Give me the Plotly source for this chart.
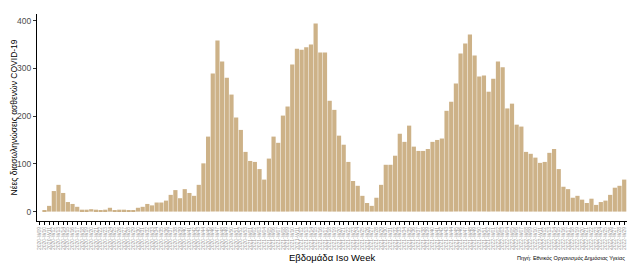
import plotly.graph_objects as go

# ISO week labels (2020-W09 .. 2022-W29)
weeks_2020 = [f"2020-W{w:02d}" for w in range(9, 54)]
weeks_2021 = [f"2021-W{w:02d}" for w in range(1, 53)]
weeks_2022 = [f"2022-W{w:02d}" for w in range(1, 30)]
week_labels = weeks_2020 + weeks_2021 + weeks_2022

intubations = [0, 1.5, 12, 43, 56, 39, 20, 16, 10, 4, 4, 5, 4, 2, 4, 8, 3, 4, 4, 3,
               2, 8, 10, 16, 13, 19, 19, 23, 35, 45, 28, 47, 39, 33, 56, 101, 157, 289, 358, 314,
               280, 245, 197, 171, 125, 106, 104, 89, 67, 111, 157, 144, 201, 220, 308, 341, 339, 344, 350, 394,
               333, 333, 232, 213, 159, 140, 104, 64, 54, 33, 18, 12, 29, 56, 98, 98, 117, 163, 146, 180,
               136, 127, 127, 131, 146, 150, 153, 211, 230, 268, 331, 352, 371, 327, 283, 285, 251, 278, 314, 302,
               216, 226, 182, 178, 125, 121, 113, 102, 104, 123, 131, 89, 52, 47, 29, 33, 25, 18, 27, 14,
               20, 23, 35, 50, 54, 67]

y_ticks = [0, 100, 200, 300, 400]

FONT = "Liberation Sans, Arial, sans-serif"

fig = go.Figure(go.Bar(x=week_labels, y=intubations, marker_color="#CDB288",
                       marker_line_width=0))

W, H = 632, 268
ml, mr, mt, mb = 37, 5, 14, 47
ph = H - mt - mb
pw = W - ml - mr

fig.update_layout(
    width=W, height=H,
    margin=dict(l=ml, r=mr, t=mt, b=mb),
    plot_bgcolor="white", paper_bgcolor="white",
    bargap=0.1,
    showlegend=False,
    font=dict(family=FONT),
    xaxis=dict(type="category", range=[-0.6, len(week_labels) - 0.4],
               tickmode="linear", tick0=0, dtick=1,
               showline=True, linecolor="black", linewidth=1,
               ticks="outside", ticklen=3, tickcolor="black", tickwidth=1,
               tickangle=-90, tickfont=dict(size=5, color="#9a9a9a"),
               showgrid=False, zeroline=False),
    yaxis=dict(range=[-19.7, 413.7], tickvals=y_ticks,
               showline=True, linecolor="black", linewidth=1,
               ticks="outside", ticklen=3, tickcolor="#333333",
               tickfont=dict(size=8.5, color="#4d4d4d"),
               showgrid=False, zeroline=False),
    annotations=[
        dict(text="Εβδομάδα Iso Week", xref="paper", yref="paper",
             x=0.5, y=-(257 - (H - mb)) / ph, xanchor="center", yanchor="middle",
             showarrow=False, font=dict(size=9.5, color="black")),
        dict(text="Νέες διασωληνώσεις ασθενών COVID-19", xref="paper", yref="paper",
             x=(13 - ml) / pw, y=0.5, xanchor="center", yanchor="middle", textangle=-90,
             showarrow=False, font=dict(size=8.5, color="black")),
        dict(text="Πηγή: Εθνικός Οργανισμός Δημόσιας Υγείας", xref="paper", yref="paper",
             x=1, y=-(258 - (H - mb)) / ph, xanchor="right", yanchor="middle",
             showarrow=False, font=dict(size=5.5, color="black")),
    ],
)

fig.write_html("out.html")
